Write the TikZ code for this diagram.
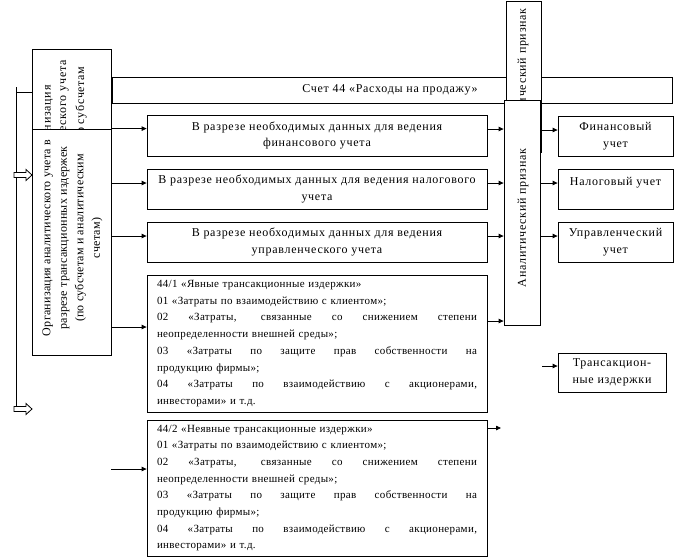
\documentclass[tikz,border=0pt]{standalone}
\usepackage{fontspec}
\setmainfont{Liberation Serif}
\newfontfamily\widefam[LetterSpace=6]{Liberation Serif}
\newfontfamily\smallfam[LetterSpace=3]{Liberation Serif}
\newfontfamily\rotfam[LetterSpace=2]{Liberation Serif}
\usetikzlibrary{arrows.meta}
\newlength{\jw}
\setlength{\jw}{320pt}
\newcommand{\jl}[1]{\leavevmode\hbox to\jw{\spaceskip=0.25em plus 1fil\relax #1}}
\begin{document}
\begin{tikzpicture}[x=1pt,y=-1pt, line width=0.8pt,
  box/.style={draw, fill=white, inner sep=0pt},
  arr/.style={-{Triangle[length=5pt,width=4.5pt]}},
  big/.style={font=\widefam\fontsize{12}{16.5}\selectfont, align=center},
  small/.style={font=\smallfam\fontsize{11}{16.7}\selectfont, align=left, text width=\jw, inner xsep=10pt, inner ysep=0pt},
  rot/.style={rotate=90, font=\widefam\fontsize{12}{16.5}\selectfont, inner sep=0pt},
  lrot/.style={rotate=90, font=\rotfam\fontsize{12}{16.5}\selectfont, inner sep=0pt}
]
\useasboundingbox (0,0) rectangle (675,558);

% band "Счет 44"
\node[box, minimum width=560pt, minimum height=26pt] (S) at (392,90) {};
\node[big] (Stxt) at (390,90) {Счет 44 «Расходы на продажу»};

% upper left (hidden) box
\node[box, minimum width=79pt, minimum height=80pt] (L0) at (71.5,89) {};
\node[rot, anchor=east] (L0a) at (48,85) {Организация};
\node[rot, anchor=east] (L0b) at (64.5,60) {аналитического учета};
\node[rot, anchor=east] (L0c) at (81,66) {по субсчетам};

% lower left box
\node[box, minimum width=79pt, minimum height=226pt] (L) at (71.5,242) {};
\node[lrot, align=center] (Ltxt) at (72.5,238) {Организация аналитического учета в\\разрезе трансакционных издержек\\(по субсчетам и аналитическим\\счетам)};

% upper analytic box (partly hidden)
\node[box, minimum width=35pt, minimum height=151pt] (A0) at (523.5,76.5) {};
\node[rot, anchor=east] (A0txt) at (523,8) {Аналитический признак};

% lower analytic box
\node[box, minimum width=36pt, minimum height=225pt] (A) at (522,212.5) {};
\node[rot] (Atxt) at (523,218) {Аналитический признак};

% middle boxes
\node[box, big, minimum width=340pt, minimum height=41pt] (b1) at (317,135.5) {В разрезе необходимых данных для ведения\\финансового учета};
\node[box, big, minimum width=340pt, minimum height=40pt] (b2) at (317,189) {В разрезе необходимых данных для ведения налогового\\учета};
\node[box, big, minimum width=340pt, minimum height=40pt] (b3) at (317,242) {В разрезе необходимых данных для ведения\\управленческого учета};

\node[box, small, minimum width=340pt, minimum height=137pt] (c1) at (317,343.5) {44/1 «Явные трансакционные издержки»\\
01 «Затраты по взаимодействию с клиентом»;\\
\jl{02 «Затраты, связанные со снижением степени}\\
неопределенности внешней среды»;\\
\jl{03 «Затраты по защите прав собственности на}\\
продукцию фирмы»;\\
\jl{04 «Затраты по взаимодействию с акционерами,}\\
инвесторами» и т.д.};

\node[box, small, minimum width=340pt, minimum height=136pt] (c2) at (317,488) {44/2 «Неявные трансакционные издержки»\\
01 «Затраты по взаимодействию с клиентом»;\\
\jl{02 «Затраты, связанные со снижением степени}\\
неопределенности внешней среды»;\\
\jl{03 «Затраты по защите прав собственности на}\\
продукцию фирмы»;\\
\jl{04 «Затраты по взаимодействию с акционерами,}\\
инвесторами» и т.д.};

% right boxes
\node[box, big, minimum width=115pt, minimum height=40pt] (F) at (615.5,136) {Финансовый\\учет};
\node[box, minimum width=115pt, minimum height=40pt] (N) at (615.5,189) {};
\node[big] (Ntxt) at (615.5,183) {Налоговый учет};
\node[box, big, minimum width=115pt, minimum height=40pt] (U) at (615.5,242) {Управленческий\\учет};
\node[box, big, minimum width=108pt, minimum height=39pt] (T) at (612,372.5) {Трансакцион-\\ные издержки};

% left spine and block arrows
\draw (16,87) -- (16,406.5);
\draw (16,92) -- (L0.west |- 0,92);
\draw[fill=white] (14,172.5) -- (26,172.5) -- (26,169.5) -- (32,175) -- (26,180.5) -- (26,177.5) -- (14,177.5) -- cycle;
\draw[fill=white] (14,406.5) -- (26,406.5) -- (26,403.5) -- (32,409) -- (26,414.5) -- (26,411.5) -- (14,411.5) -- cycle;

% connectors from left box
\draw[arr] (L.north east) -- (L.north east -| b1.west);
\draw[arr] (L.east |- 0,183) -- (b2.west |- 0,183);
\draw[arr] (L.east |- 0,236) -- (b3.west |- 0,236);
\draw[arr] (L.east |- 0,327) -- (c1.west |- 0,327);
\coordinate (s2) at (111,469);
\draw[arr] (s2) -- (c2.west |- s2);

% connectors to analytic box
\draw[arr] (b1.east |- 0,129) -- (A.west |- 0,129);
\draw[arr] (b2.east |- 0,183) -- (A.west |- 0,183);
\draw[arr] (b3.east |- 0,236) -- (A.west |- 0,236);
\draw[arr] (c1.east |- 0,321) -- (A.west |- 0,321);
\coordinate (e2) at (501,428);
\draw[arr] (c2.east |- e2) -- (e2);

% analytic box to right boxes
\draw[arr] (A.east |- 0,130) -- (F.west |- 0,130);
\draw[arr] (A.east |- 0,183) -- (N.west |- 0,183);
\draw[arr] (A.east |- 0,236) -- (U.west |- 0,236);
\coordinate (t0) at (542,366);
\draw[arr] (t0) -- (T.west |- t0);
\end{tikzpicture}
\end{document}
